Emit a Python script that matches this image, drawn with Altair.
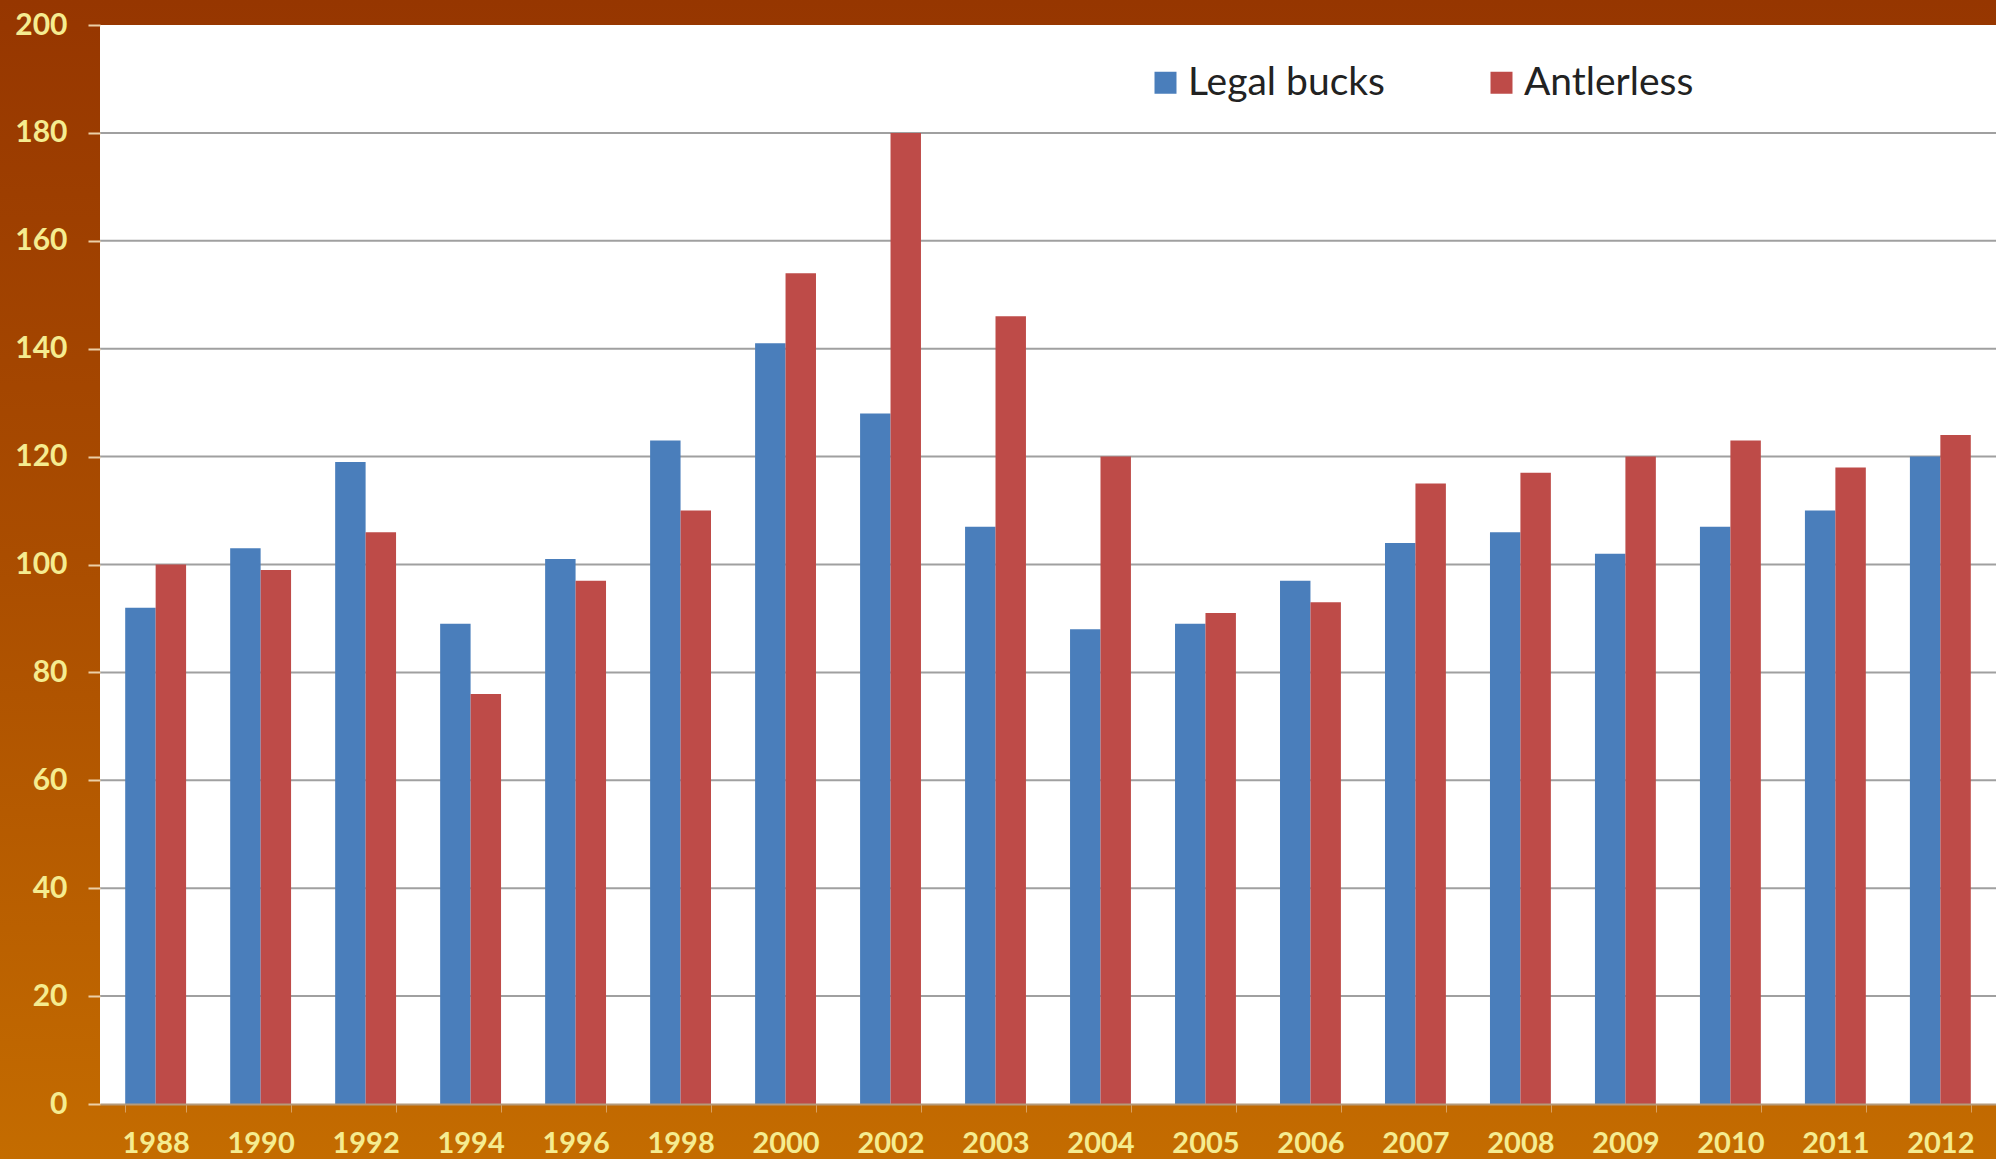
import altair as alt
import pandas as pd

years = ["1988", "1990", "1992", "1994", "1996", "1998", "2000", "2002", "2003",
         "2004", "2005", "2006", "2007", "2008", "2009", "2010", "2011", "2012"]
legal_bucks = [92, 103, 119, 89, 101, 123, 141, 128, 107, 88, 89, 97, 104, 106, 102, 107, 110, 120]
antlerless = [100, 99, 106, 76, 97, 110, 154, 180, 146, 120, 91, 93, 115, 117, 120, 123, 118, 124]
series_names = ["Legal bucks", "Antlerless"]
series_colors = ["#4a7ebb", "#be4b48"]
y_ticks = [0, 20, 40, 60, 80, 100, 120, 140, 160, 180, 200]
grid_values = [20, 40, 60, 80, 100, 120, 140, 160, 180]

rows = []
for i, yr in enumerate(years):
    rows.append({"year": yr, "series": series_names[0], "value": legal_bucks[i]})
    rows.append({"year": yr, "series": series_names[1], "value": antlerless[i]})
df = pd.DataFrame(rows)

W, H = 1896, 1079
PAD_L, PAD_T, PAD_R, PAD_B = 100, 25, 0, 55

one = pd.DataFrame({"k": [0]})

bg = alt.Chart(one).mark_rect(
    color=alt.LinearGradient(
        gradient="linear",
        stops=[alt.GradientStop(color="#963600", offset=0),
               alt.GradientStop(color="#ab4e00", offset=0.5),
               alt.GradientStop(color="#c46c00", offset=1)],
        x1=0, x2=0, y1=0, y2=1),
).encode(
    x=alt.value(-PAD_L), x2=alt.value(W + PAD_R),
    y=alt.value(-PAD_T), y2=alt.value(H + PAD_B),
)

white = alt.Chart(one).mark_rect(color="white").encode(
    x=alt.value(0), x2=alt.value(W), y=alt.value(0), y2=alt.value(H)
)

yscale = alt.Scale(domain=[0, 200], nice=False, zero=True)
yaxis = alt.Axis(values=y_ticks, grid=False, domain=False,
                 tickSize=12, tickColor="#ecd0a8", tickWidth=2,
                 labelPadding=21, labelFont="Lato",
                 labelFontWeight="bold", labelFontSize=30,
                 labelColor="#f5ec90", zindex=1)

grid = alt.Chart(pd.DataFrame({"value": grid_values})).mark_rule(
    color="#a0a0a0", strokeWidth=2
).encode(y=alt.Y("value:Q", scale=yscale, title=None, axis=yaxis))

bars = alt.Chart(df).mark_bar().encode(
    x=alt.X("year:N", sort=years, title=None,
            scale=alt.Scale(paddingInner=0.42, paddingOuter=0.24),
            axis=alt.Axis(labelAngle=0, tickBand="extent", tickSize=8,
                          tickColor="#d9a060", labelPadding=17,
                          domainColor="#b59a7a", domainWidth=2,
                          labelFont="Lato", labelFontWeight="bold",
                          labelFontSize=29, labelColor="#f5ec90", zindex=1)),
    xOffset=alt.XOffset("series:N", sort=series_names,
                        scale=alt.Scale(paddingInner=0, paddingOuter=0)),
    y=alt.Y("value:Q", scale=yscale, title=None, axis=yaxis),
    color=alt.Color("series:N", sort=series_names,
                    scale=alt.Scale(domain=series_names, range=series_colors),
                    legend=alt.Legend(title=None, orient="none",
                                      legendX=1046, legendY=38,
                                      direction="horizontal",
                                      symbolType="square", symbolSize=484,
                                      symbolStrokeWidth=0, symbolOpacity=1,
                                      labelFont="Lato", labelFontSize=39,
                                      labelLimit=500,
                                      labelColor="#222222", labelOffset=3,
                                      columnPadding=97, padding=0)),
)

chart = alt.layer(bg, white, grid, bars).properties(
    width=W, height=H,
    padding={"left": PAD_L, "top": PAD_T, "right": PAD_R, "bottom": PAD_B},
    autosize=alt.AutoSizeParams(type="none"),
    background="#ab4e00",
).configure_view(stroke=None)

chart.save("out.html", embed_options={"renderer": "svg", "actions": False})
